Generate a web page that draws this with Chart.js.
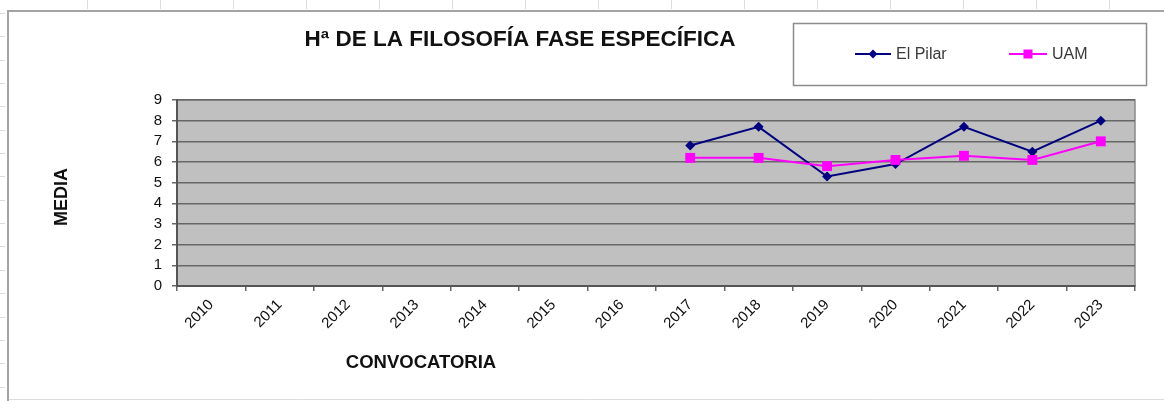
<!DOCTYPE html>
<html>
<head>
<meta charset="utf-8">
<script src="https://cdn.jsdelivr.net/npm/chart.js@4.4.1/dist/chart.umd.min.js"></script>
<style>
  html, body { margin: 0; padding: 0; background: #fff; }
  #wrap { width: 1164px; height: 401px; }
</style>
</head>
<body>
<div id="wrap"><canvas id="chart" width="1164" height="401"></canvas></div>
<script>
const YEARS = ['2010', '2011', '2012', '2013', '2014', '2015', '2016',
  '2017', '2018', '2019', '2020', '2021', '2022', '2023'];

const EL_PILAR = [null, null, null, null, null, null, null, 6.8, 7.7, 5.3, 5.9, 7.7, 6.5, 8.0];
const UAM = [null, null, null, null, null, null, null, 6.2, 6.2, 5.8, 6.1, 6.3, 6.1, 7.0];

const Y_MIN = 0;
const Y_MAX = 9;

const FONT = '"Liberation Sans", Arial, sans-serif';
const NAVY = '#000080';
const MAGENTA = '#ff00ff';

// sheet gridlines, chart frame and grey plot area
const backdrop = {
  id: 'backdrop',
  beforeDraw(chart) {
    const { ctx, chartArea: a, width, height } = chart;
    ctx.save();
    ctx.strokeStyle = '#dcdcdc';
    ctx.lineWidth = 1;
    for (let x = 87; x < width; x += 73) {
      ctx.beginPath(); ctx.moveTo(x + 0.5, 0); ctx.lineTo(x + 0.5, 9); ctx.stroke();
    }
    for (let y = 13; y < height; y += 23.35) {
      ctx.beginPath(); ctx.moveTo(0, Math.round(y) + 0.5); ctx.lineTo(5, Math.round(y) + 0.5); ctx.stroke();
    }
    ctx.beginPath(); ctx.moveTo(7, 399.5); ctx.lineTo(width, 399.5); ctx.stroke();

    ctx.strokeStyle = '#a4a4a4';
    ctx.lineWidth = 2;
    ctx.beginPath();
    ctx.moveTo(8, height);
    ctx.lineTo(8, 11);
    ctx.lineTo(width, 11);
    ctx.stroke();

    ctx.fillStyle = '#c0c0c0';
    ctx.fillRect(a.left, a.top, a.right - a.left, a.bottom - a.top);
    ctx.strokeStyle = '#8a8a8a';
    ctx.lineWidth = 1.5;
    ctx.strokeRect(a.left, a.top, a.right - a.left, a.bottom - a.top);
    ctx.restore();
  },
};

// title, axis titles and the boxed legend
const labels = {
  id: 'labels',
  afterDraw(chart) {
    const { ctx } = chart;
    ctx.save();
    ctx.fillStyle = '#111';
    ctx.textAlign = 'center';
    ctx.textBaseline = 'middle';
    ctx.font = `bold 22.5px ${FONT}`;
    ctx.fillText('Hª DE LA FILOSOFÍA FASE ESPECÍFICA', 520, 40);

    ctx.font = `bold 18.5px ${FONT}`;
    ctx.fillText('CONVOCATORIA', 421, 363);
    ctx.save();
    ctx.translate(62, 197);
    ctx.rotate(-Math.PI / 2);
    ctx.font = `bold 18px ${FONT}`;
    ctx.fillText('MEDIA', 0, 0);
    ctx.restore();

    // legend box
    ctx.fillStyle = '#fff';
    ctx.fillRect(793, 23, 353, 62);
    ctx.strokeStyle = '#8c8c8c';
    ctx.lineWidth = 1.5;
    ctx.strokeRect(793.5, 23.5, 353, 62);

    const items = [
      { text: 'El Pilar', color: NAVY, x0: 855, x1: 891, mark: 'diamond' },
      { text: 'UAM', color: MAGENTA, x0: 1009, x1: 1047, mark: 'square' },
    ];
    const y = 54;
    ctx.font = `16px ${FONT}`;
    ctx.textAlign = 'left';
    for (const it of items) {
      ctx.strokeStyle = it.color;
      ctx.fillStyle = it.color;
      ctx.lineWidth = 2;
      ctx.beginPath(); ctx.moveTo(it.x0, y); ctx.lineTo(it.x1, y); ctx.stroke();
      const cx = (it.x0 + it.x1) / 2;
      ctx.beginPath();
      if (it.mark === 'diamond') {
        ctx.moveTo(cx, y - 4.5); ctx.lineTo(cx + 4.5, y); ctx.lineTo(cx, y + 4.5); ctx.lineTo(cx - 4.5, y);
        ctx.closePath(); ctx.fill();
      } else {
        ctx.fillRect(cx - 4.5, y - 4.5, 9, 9);
      }
      ctx.fillStyle = '#3a3a3a';
      ctx.fillText(it.text, it.x1 + 5, y + 1);
    }
    ctx.restore();
  },
};

new Chart(document.getElementById('chart'), {
  type: 'line',
  data: {
    labels: YEARS,
    datasets: [
      {
        label: 'El Pilar',
        data: EL_PILAR,
        borderColor: NAVY,
        backgroundColor: NAVY,
        borderWidth: 2,
        pointStyle: 'rectRot',
        pointRadius: 5,
        pointBorderWidth: 0,
        tension: 0,
        order: 1,
      },
      {
        label: 'UAM',
        data: UAM,
        borderColor: MAGENTA,
        backgroundColor: MAGENTA,
        borderWidth: 2,
        pointStyle: 'rect',
        pointRadius: 7,
        pointBorderWidth: 0,
        tension: 0,
        order: 0,
      },
    ],
  },
  options: {
    responsive: false,
    animation: false,
    events: [],
    layout: { padding: { top: 100, right: 29, left: 0, bottom: 0 } },
    plugins: {
      legend: { display: false },
      title: { display: false },
      tooltip: { enabled: false },
    },
    scales: {
      x: {
        offset: true,
        grid: { offset: true, drawOnChartArea: false, drawTicks: true, tickLength: 5, color: '#666', lineWidth: 1.5 },
        border: { color: '#555', width: 2 },
        ticks: {
          autoSkip: false, minRotation: 45, maxRotation: 45, padding: 5,
          color: '#111', font: { family: FONT, size: 15 },
        },
        afterFit: s => { s.height = 115; },
      },
      y: {
        min: Y_MIN,
        max: Y_MAX,
        grid: { color: '#666', lineWidth: 1.5, tickLength: 5 },
        border: { color: '#555', width: 2 },
        ticks: {
          stepSize: 1, autoSkip: false, padding: 10,
          color: '#111', font: { family: FONT, size: 15 },
        },
        afterFit: s => { s.width = 177; },
      },
    },
  },
  plugins: [backdrop, labels],
});
</script>
</body>
</html>
